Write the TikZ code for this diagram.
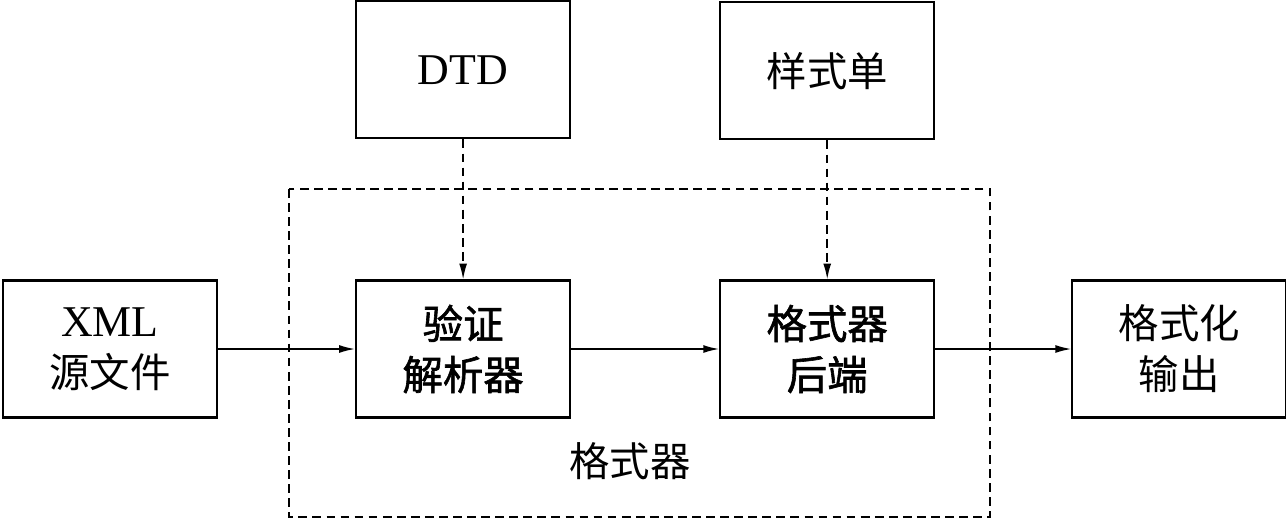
\documentclass[tikz,border=0pt]{standalone}
\usepackage{fontspec}
\setmainfont{Liberation Serif}
\newfontfamily\cjk{Noto Sans CJK SC}
\newfontfamily\cjkbold{Noto Sans CJK SC}[FakeBold=1.5]
\usetikzlibrary{arrows.meta,positioning}
\tikzstyle{block}=[rectangle,draw,line width=1.2pt,minimum width=4.28cm,minimum height=2.74cm,
                  align=center,font=\fontsize{23}{29}\selectfont]
\tikzstyle{arrow}=[-{Latex[length=9pt,width=4.5pt]},line width=0.9pt]
\tikzstyle{darrow}=[arrow,dash pattern=on 5pt off 3pt]
\tikzstyle{frame}=[line width=0.9pt,dash pattern=on 5pt off 3pt]

\begin{document}
\begin{tikzpicture}
      \useasboundingbox (0,0) rectangle (25.72,-10.44);
      \node[block] (xml) at (2.2,-6.98) {\fontsize{25}{29}\selectfont XML\\{\cjk 源文件}};
      \node[block,right=2.74cm of xml] (parser) {\cjkbold 验证\\\cjkbold 解析器};
      \node[block,right=2.96cm of parser] (backend) {\cjkbold 格式器\\\cjkbold 后端};
      \node[block,right=2.72cm of backend] (output) {\cjk 格式化\\\cjk 输出};
      \node[block,above=2.8cm of parser] (dtd) {\fontsize{25}{29}\selectfont DTD};
      \node[block,above=2.78cm of backend] (style) {\cjk 样式单};

      % formatter frame
      \draw[frame] (5.78,-3.78) rectangle (19.8,-10.34);
      \node[font=\fontsize{23}{29}\selectfont\cjk] (fmt) at (12.6,-9.22) {格式器};

      \draw[arrow] (xml)--(parser);
      \draw[arrow] (parser)--(backend);
      \draw[arrow] (backend)--(output);
      \draw[darrow] (dtd)--(parser);
      \draw[darrow] (style)--(backend);
    \end{tikzpicture}
\end{document}
